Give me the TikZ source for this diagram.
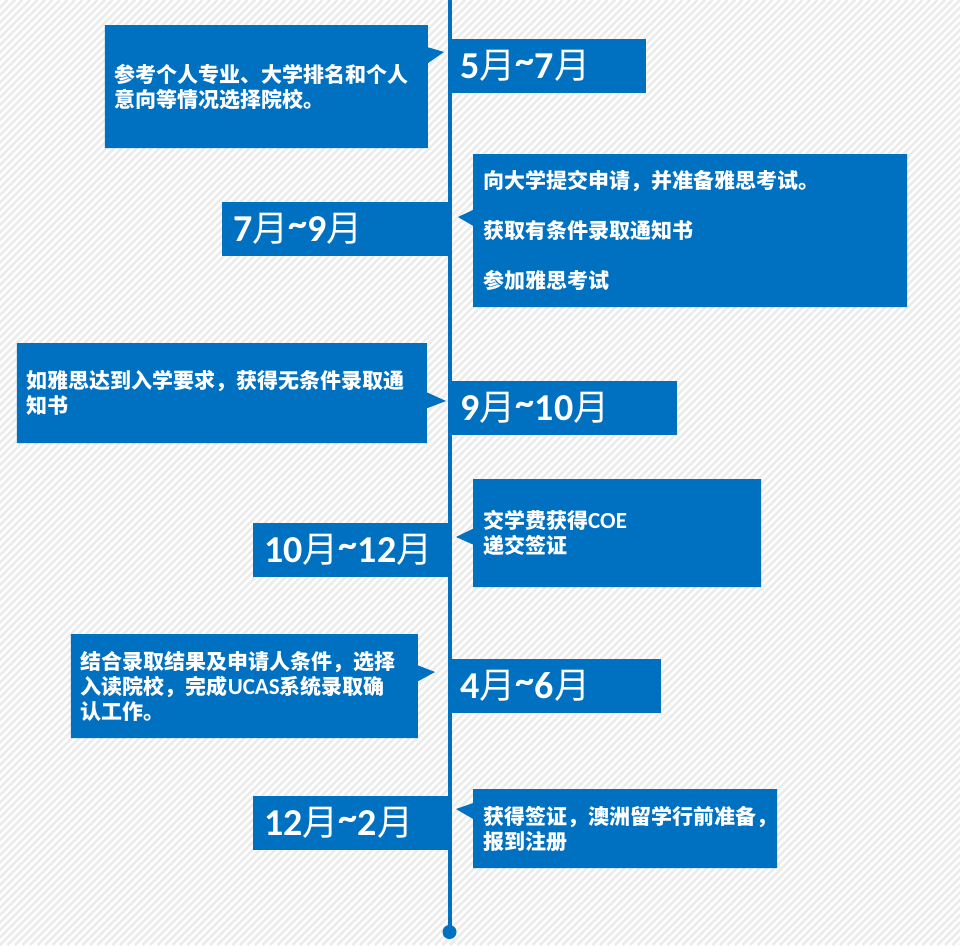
\documentclass[tikz,border=0pt]{standalone}
\usepackage{fontspec}
\setmainfont{Carlito}
\newfontfamily\cjk{Noto Sans CJK SC}
\usetikzlibrary{shapes.callouts}
\definecolor{tlblue}{RGB}{0,112,192}
\definecolor{stripegray}{RGB}{236,236,236}
\newcommand\yue{{\cjk\mdseries\fontsize{36}{40}\selectfont 月}}
\newcommand\tld{\raisebox{5pt}{\textasciitilde}}
\newcommand\en[1]{{\rmfamily\fontsize{23}{25}\selectfont #1}}

\begin{document}
\begin{tikzpicture}[x=1pt,y=-1pt,
            stripe/.style={draw=stripegray,line width=2.6pt},
            axis/.style={draw=tlblue,line width=4pt},
            datebox/.style={rectangle,fill=tlblue,text=white,minimum height=54pt,inner xsep=11pt,inner ysep=0pt,align=left,font=\rmfamily\bfseries\fontsize{38}{42}\selectfont},
            note/.style={rectangle callout,fill=tlblue,text=white,inner xsep=10pt,inner ysep=0pt,align=left,callout pointer width=16pt,font=\cjk\bfseries\fontsize{21}{25}\selectfont}]

            \useasboundingbox (0,0) rectangle (960,945);
            \fill[white] (0,0) rectangle (960,945);
            \begin{scope}
               \clip (0,0) rectangle (960,945);
               \foreach \k in {-945,-937.5,...,960}
                  \draw[stripe] (\k,945) -- ++(945,-945);
            \end{scope}

            % time line
            \coordinate (top) at (449.5,0);
            \coordinate (bottom) at (449.5,932);

            % dates
            \node[datebox,anchor=west,text width=174pt] (d1) at (449.5,66) {5\yue\tld7\yue};
            \node[datebox,anchor=east,text width=205pt] (d2) at (449.5,229) {7\yue\tld9\yue};
            \node[datebox,anchor=west,text width=205pt] (d3) at (449.5,408) {9\yue\tld10\yue};
            \node[datebox,anchor=east,text width=174pt] (d4) at (449.5,550) {10\yue\tld12\yue};
            \node[datebox,anchor=west,text width=189pt] (d5) at (449.5,686) {4\yue\tld6\yue};
            \node[datebox,anchor=east,text width=174pt] (d6) at (449.5,823) {12\yue\tld2\yue};

            % notes
            \node[note,anchor=north east,text width=303pt,minimum height=123pt,callout absolute pointer={(444,52)}] (n1) at (428,25)
               {参考个人专业、大学排名和个人\\意向等情况选择院校。};
            \node[note,anchor=north west,text width=414pt,minimum height=153pt,callout absolute pointer={(458,217)}] (n2) at (473,154)
               {向大学提交申请，并准备雅思考试。\\[25pt]获取有条件录取通知书\\[25pt]参加雅思考试};
            \node[note,anchor=north east,text width=390pt,minimum height=100pt,callout absolute pointer={(446,401)}] (n3) at (427,343)
               {如雅思达到入学要求，获得无条件录取通\\知书};
            \node[note,anchor=north west,text width=268pt,minimum height=108pt,callout absolute pointer={(456,537)}] (n4) at (473,479)
               {交学费获得\en{COE}\\递交签证};
            \node[note,anchor=north east,text width=327pt,minimum height=104pt,callout absolute pointer={(435,672)}] (n5) at (418,634)
               {结合录取结果及申请人条件，选择\\入读院校，完成\en{UCAS}系统录取确\\认工作。};
            \node[note,anchor=north west,text width=284pt,minimum height=79pt,callout absolute pointer={(456,809)}] (n6) at (473,789)
               {获得签证，澳洲留学行前准备，\\报到注册};

            \draw[axis] (top) -- (bottom);
            \fill[tlblue] (bottom) circle (7pt);
         \end{tikzpicture}
\end{document}
